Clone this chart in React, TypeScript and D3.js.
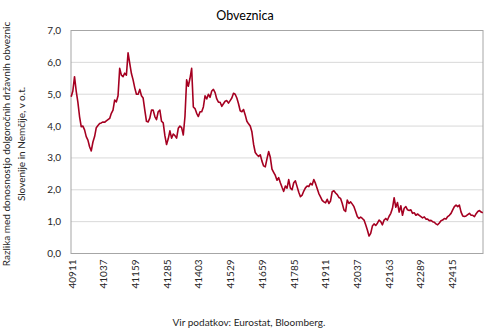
import React from 'react';
import * as d3 from 'd3';

const TITLE = 'Obveznica';
const Y_TITLE_LINES = [
  'Razlika med donosnostjo dolgoročnih državnih obveznic',
  'Slovenije in Nemčije, v o.t.',
];
const SOURCE = 'Vir podatkov: Eurostat, Bloomberg.';
const X_TICK_LABELS = ['40911', '41037', '41159', '41285', '41403', '41529', '41659', '41785', '41911', '42037', '42163', '42289', '42415'];
const Y_TICKS = [0, 1, 2, 3, 4, 5, 6, 7];
const CATEGORY_COUNT = 1170;
const LABEL_INTERVAL = 90;

const values = [
  4.92, 5.1, 5.55, 5.1, 4.75, 4.3, 3.98, 4.0, 3.88, 3.67, 3.56, 3.35, 3.22, 3.5, 3.67, 3.95, 4.02, 4.08, 4.1, 4.13,
  4.12, 4.16, 4.2, 4.24, 4.4, 4.5, 4.82, 4.76, 4.95, 5.81, 5.6, 5.55, 5.66, 5.6, 6.3, 5.97, 5.65, 5.45, 5.2, 5.0,
  5.0, 5.15, 4.95, 4.88, 4.5, 4.15, 4.13, 4.25, 4.5, 4.5, 4.3, 4.2, 4.45, 4.5, 4.15, 4.1, 3.7, 3.42, 3.6, 3.85,
  3.62, 3.75, 3.7, 3.62, 3.93, 4.0, 3.95, 3.72, 4.3, 5.45, 5.25, 5.5, 5.81, 4.6, 4.55, 4.4, 4.3, 4.45, 4.45, 4.6,
  4.95, 4.85, 5.0, 4.9, 5.1, 5.15, 5.05, 4.85, 4.75, 4.75, 4.62, 4.7, 4.78, 4.8, 4.72, 4.8, 4.88, 5.03, 5.0, 4.88,
  4.7, 4.48, 4.45, 4.52, 4.35, 4.15, 4.07, 4.0, 3.82, 3.43, 3.17, 3.1, 3.05, 3.1, 2.9, 2.75, 2.72, 2.97, 3.2, 3.02,
  2.65, 2.55, 2.45, 2.3, 2.38, 2.22, 2.08, 1.95, 2.12, 2.05, 2.32, 2.05, 2.0, 2.22, 2.28, 2.1, 1.92, 1.78, 1.83, 1.96,
  2.06, 2.12, 2.1, 2.2, 2.15, 2.32, 2.2, 2.04, 1.88, 1.78, 1.67, 1.62, 1.59, 1.7, 1.57, 1.65, 1.94, 1.97, 1.9, 1.85,
  1.76, 1.73, 1.57, 1.37, 1.32, 1.68, 1.57, 1.62, 1.55, 1.47, 1.32, 1.16, 1.1, 1.14, 1.1, 1.05, 0.9, 0.74, 0.55, 0.63,
  0.86, 0.93, 0.88, 0.95, 1.05, 1.0, 0.9, 1.05, 1.1, 1.05, 1.17, 1.26, 1.42, 1.75, 1.45, 1.6, 1.3, 1.5, 1.2, 1.42,
  1.47, 1.37, 1.35, 1.37, 1.26, 1.28, 1.2, 1.24, 1.2, 1.16, 1.12, 1.15, 1.08, 1.08, 1.03, 1.04, 1.0, 0.98, 0.93, 0.9,
  0.96, 1.03, 1.05, 1.1, 1.08, 1.16, 1.2, 1.26, 1.37, 1.47, 1.52, 1.47, 1.52, 1.3, 1.18, 1.16, 1.18, 1.22, 1.26, 1.2,
  1.2, 1.16, 1.25, 1.32, 1.35, 1.3, 1.28,
];

const W = 490;
const H = 332;
const PLOT = { left: 71, right: 483, top: 30.5, bottom: 253.5 };
const FONT = "Lato, 'Liberation Sans', sans-serif";
const TEXT_COLOR = '#262626';

export default function App() {
  const x = d3.scaleLinear().domain([0, CATEGORY_COUNT]).range([PLOT.left, PLOT.right]);
  const y = d3.scaleLinear().domain([0, 7]).range([PLOT.bottom, PLOT.top]);
  const catOf = (i: number) => (i * (CATEGORY_COUNT - 1)) / (values.length - 1);
  const line = d3
    .line<number>()
    .x((_, i) => x(catOf(i) + 0.5))
    .y((d) => y(d));
  const fmt = (v: number) => v.toFixed(1).replace('.', ',');
  const midY = (PLOT.top + PLOT.bottom) / 2 + 2;

  return (
    <svg
      width={W}
      height={H}
      style={{ position: 'absolute', left: 0, top: 0, background: '#fff' }}
      fontFamily={FONT}
    >
      <rect x={0} y={0} width={W} height={H} fill="#fff" />
      <text x={W / 2} y={20} textAnchor="middle" fontSize={12.5} fill="#000">
        {TITLE}
      </text>
      {Y_TICKS.map((t) => (
        <g key={t}>
          {t > 0 && t < 7 && (
            <line x1={PLOT.left} x2={PLOT.right} y1={y(t)} y2={y(t)} stroke="#d9d9d9" strokeWidth={1} />
          )}
          <text x={61} y={y(t)} dy="0.35em" textAnchor="end" fontSize={10} fill={TEXT_COLOR}>
            {fmt(t)}
          </text>
        </g>
      ))}
      <rect
        x={PLOT.left}
        y={PLOT.top}
        width={PLOT.right - PLOT.left}
        height={PLOT.bottom - PLOT.top}
        fill="none"
        stroke="#a6a6a6"
        strokeWidth={1}
      />
      <path d={line(values) || ''} fill="none" stroke="#a50021" strokeWidth={1.6} strokeLinejoin="round" />
      {X_TICK_LABELS.map((lab, i) => {
        const cx = x(i * LABEL_INTERVAL + 0.5) + 1;
        return (
          <text
            key={lab}
            transform={`translate(${cx},${PLOT.bottom + 6}) rotate(-90)`}
            textAnchor="end"
            dy="0.35em"
            fontSize={10}
            fill={TEXT_COLOR}
          >
            {lab}
          </text>
        );
      })}
      {Y_TITLE_LINES.map((l, i) => (
        <text
          key={i}
          transform={`translate(${i === 0 ? 10 : 25},${midY}) rotate(-90)`}
          textAnchor="middle"
          fontSize={10}
          fill={TEXT_COLOR}
        >
          {l}
        </text>
      ))}
      <text x={249} y={326} textAnchor="middle" fontSize={10} fill={TEXT_COLOR}>
        {SOURCE}
      </text>
    </svg>
  );
}
